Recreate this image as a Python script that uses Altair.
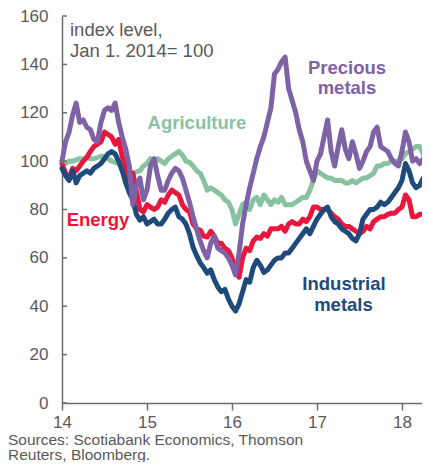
import altair as alt
import pandas as pd

# Half-monthly time grid, in years (14 = Jan 2014)
years = [round(14 + k / 24, 4) for k in range(105)]

precious = [100, 108, 112, 119, 124, 116, 117, 114, 113, 109,
            108, 116, 121, 122, 121, 124, 116, 110, 105, 98,
            82, 90, 93, 84, 88, 98, 101, 94, 88, 88,
            92, 95, 97, 96, 93, 88, 83, 77, 72, 67,
            63, 60, 66, 69, 64, 63, 62, 60, 57, 53,
            62, 74, 82, 89, 95, 101, 106, 110, 116, 122,
            136, 138, 141, 143, 130, 125, 120, 113, 108, 100,
            96, 92, 100, 103, 110, 117, 104, 98, 106, 113,
            105, 101, 108, 103, 97, 100, 104, 106, 112, 114,
            106, 105, 104, 101, 99, 98, 104, 112, 108, 100,
            101, 99, 101, 104, 103]

agriculture = [100, 99, 100, 100, 100.5, 101, 101, 101.5, 101, 101,
               101.5, 102, 102, 101, 100, 99.5, 99, 97.5, 97, 96,
               95, 95.5, 96, 98, 99, 101, 99, 101, 100, 99,
               101, 102, 103, 104, 102.5, 100, 99.5, 98, 96, 95,
               92, 88, 89, 88, 87, 86, 84, 83, 80, 74,
               78, 82, 83, 80, 84, 85, 82, 86, 84, 82,
               84, 83, 85, 82, 82, 82, 83, 84, 85, 85,
               88, 92, 96, 95, 94, 93, 93, 92, 92, 92,
               91, 91, 92, 91, 92, 93, 93, 94, 95, 98,
               98, 99, 99, 100, 100, 100, 101, 103, 104, 105,
               106, 106, 103, 104, 104]

energy = [99, 95, 93, 97, 96, 98, 100, 101.5, 104, 106,
          107, 108, 112, 111, 110, 107, 109, 102, 98, 92,
          95, 88, 80, 79, 82, 81, 80, 81, 84, 83,
          86, 88, 87, 86, 82, 80, 79, 74, 72, 71.5,
          69, 68.6, 71, 69, 66, 66, 64, 63, 60, 55,
          52, 60, 64, 63, 67, 68.6, 68, 70, 69, 72,
          72, 72, 73, 71, 74, 75, 74, 74, 76, 75,
          77, 81, 81, 80, 80, 80, 78.5, 77, 76, 74,
          73, 73, 72, 71, 70, 71, 73, 72, 75, 76,
          77, 77, 78, 78.5, 78.5, 80, 81, 86, 84, 77,
          77, 78, 78, 80, 84]

industrial = [97, 94, 92, 96, 91, 94, 95, 96, 95, 97,
              98, 99, 101, 103, 104, 103, 100, 96, 91, 87,
              84, 78, 75.6, 77, 74, 75, 76, 74, 74, 76,
              78.5, 80, 81, 77, 76, 74, 70, 64.5, 61, 58,
              56, 53.7, 55, 51, 48, 46, 47, 43, 40, 38,
              41, 46, 51, 50, 56, 59, 57, 54, 55, 57,
              59, 60, 60, 62, 62, 64, 66, 68, 70, 72,
              70, 73, 76, 78, 80, 81, 77, 75, 74, 72,
              71, 70, 68, 67, 70, 76, 78, 80, 80, 81,
              83, 82, 83, 85, 87, 89, 92, 99, 96, 91,
              89, 90, 93, 88, 94]

series_order = ["Agriculture", "Energy", "Industrial metals", "Precious metals"]
series_values = {
    "Agriculture": agriculture,
    "Energy": energy,
    "Industrial metals": industrial,
    "Precious metals": precious,
}
series_colors = {
    "Agriculture": "#88C2A0",
    "Energy": "#E9173D",
    "Industrial metals": "#1F4A7C",
    "Precious metals": "#7F62A6",
}

# Labels on the chart (text, x in years, y in index units)
label_text = ["Precious", "metals", "Agriculture", "Energy", "Industrial", "metals"]
label_series = ["Precious metals", "Precious metals", "Agriculture", "Energy",
                "Industrial metals", "Industrial metals"]
label_x = [17.353, 17.353, 15.588, 14.424, 17.318, 17.312]
label_y = [135.9, 127.7, 113.2, 73.1, 46.7, 38.0]

note_text = ["index level,", "Jan 1. 2014= 100"]
note_x = [14.094, 14.094]
note_y = [151.7, 143.0]

source_lines = ["Sources: Scotiabank Economics, Thomson", "Reuters, Bloomberg."]

x_ticks = [14, 15, 16, 17, 18]
y_ticks = [0, 20, 40, 60, 80, 100, 120, 140, 160]

FONT = "Liberation Sans"
GREY = "#595959"
AXIS = "#6e6e6e"

xscale = alt.Scale(domain=[14, 18.33], nice=False, zero=False)
yscale = alt.Scale(domain=[0, 160], nice=False)

layers = []
first = True
for name in series_order:
    df = pd.DataFrame({"t": years, "v": series_values[name]})
    if first:
        xenc = alt.X("t:Q", scale=xscale,
                     axis=alt.Axis(values=x_ticks, format="d", title=None, grid=False,
                                   labelFont=FONT, labelFontSize=17, labelColor=GREY,
                                   labelFlush=False,
                                   domainColor=AXIS, domainWidth=1.5,
                                   tickColor=AXIS, tickWidth=1.5, tickSize=7,
                                   labelPadding=4))
        yenc = alt.Y("v:Q", scale=yscale,
                     axis=alt.Axis(values=y_ticks, title=None, grid=False,
                                   labelFont=FONT, labelFontSize=17, labelColor=GREY,
                                   domainColor=AXIS, domainWidth=1.5,
                                   ticks=False, labelPadding=14))
        first = False
    else:
        xenc = alt.X("t:Q", scale=xscale)
        yenc = alt.Y("v:Q", scale=yscale)
    layers.append(
        alt.Chart(df).mark_line(color=series_colors[name], strokeWidth=5,
                                strokeJoin="round", strokeCap="round")
        .encode(x=xenc, y=yenc)
    )

# inward y ticks
ytick_df = pd.DataFrame({"v": y_ticks})
yticks = alt.Chart(ytick_df).mark_rule(color=AXIS, strokeWidth=1.5).encode(
    y=alt.Y("v:Q", scale=yscale), x=alt.value(0), x2=alt.value(5)
)

lab_df = pd.DataFrame({"text": label_text, "series": label_series,
                       "t": label_x, "v": label_y})
labels = alt.Chart(lab_df).mark_text(font=FONT, fontSize=18.5, fontWeight="bold",
                                     align="center", baseline="alphabetic").encode(
    x=alt.X("t:Q", scale=xscale), y=alt.Y("v:Q", scale=yscale), text="text:N",
    color=alt.Color("series:N",
                    scale=alt.Scale(domain=list(series_colors.keys()),
                                    range=list(series_colors.values())),
                    legend=None)
)

note_df = pd.DataFrame({"text": note_text, "t": note_x, "v": note_y})
notes = alt.Chart(note_df).mark_text(font=FONT, fontSize=18.5, color=GREY,
                                     align="left", baseline="alphabetic").encode(
    x=alt.X("t:Q", scale=xscale), y=alt.Y("v:Q", scale=yscale), text="text:N"
)

src1 = alt.Chart(pd.DataFrame({"text": [source_lines[0]]})).mark_text(
    font=FONT, fontSize=15.5, color=GREY, align="left", baseline="alphabetic"
).encode(x=alt.value(-54), y=alt.value(429), text="text:N")
src2 = alt.Chart(pd.DataFrame({"text": [source_lines[1]]})).mark_text(
    font=FONT, fontSize=15.5, color=GREY, align="left", baseline="alphabetic"
).encode(x=alt.value(-54), y=alt.value(444), text="text:N")

chart = alt.layer(*layers, yticks, labels, notes, src1, src2).properties(
    width=368, height=387,
    autosize=alt.AutoSizeParams(type="none"),
    padding={"left": 54, "top": 8, "right": -8, "bottom": 59},
).configure_view(stroke=None)

chart.save("out.html", embed_options={"renderer": "svg", "actions": False})
